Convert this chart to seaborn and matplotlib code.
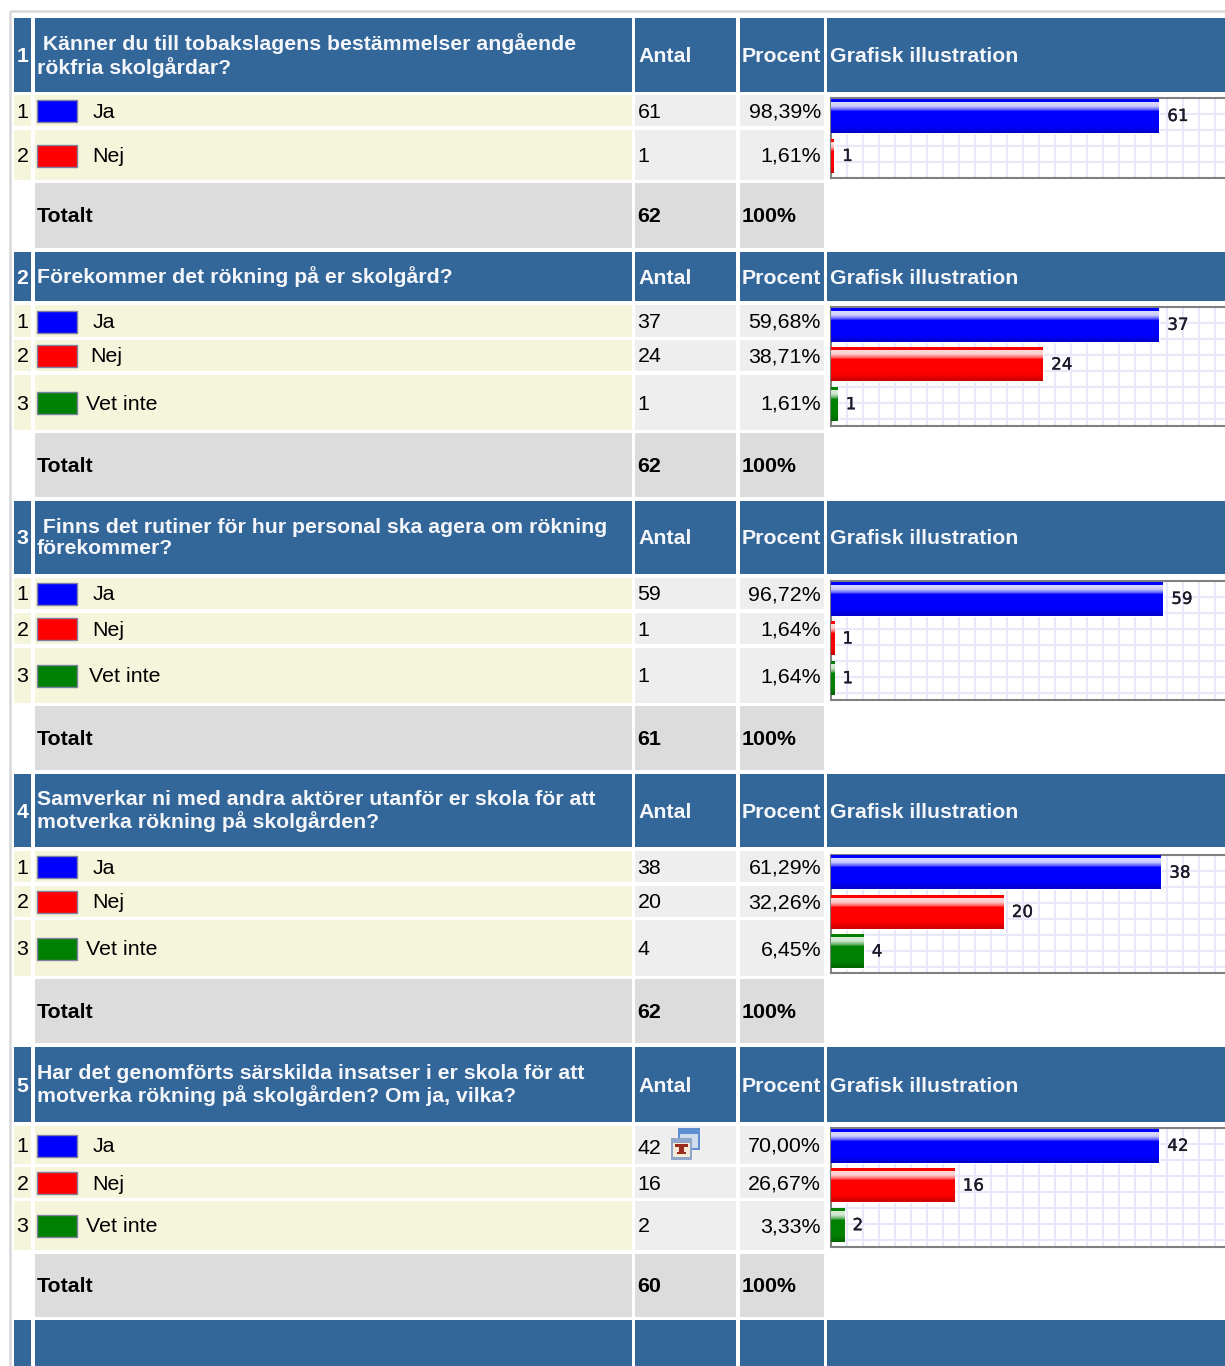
import numpy as np
import matplotlib
matplotlib.use("Agg")
import matplotlib.pyplot as plt
import matplotlib.patheffects as pe
from matplotlib.colors import to_rgb
from matplotlib.patches import Rectangle
import seaborn as sns

W, H = 1225, 1366

# data
questions = [
    " Känner du till tobakslagens bestämmelser angående\nrökfria skolgårdar?",
    "Förekommer det rökning på er skolgård?",
    " Finns det rutiner för hur personal ska agera om rökning\nförekommer?",
    "Samverkar ni med andra aktörer utanför er skola för att\nmotverka rökning på skolgården?",
    "Har det genomförts särskilda insatser i er skola för att\nmotverka rökning på skolgården? Om ja, vilka?",
]
options = [
    ["Ja", "Nej"],
    ["Ja", "Nej", "Vet inte"],
    ["Ja", "Nej", "Vet inte"],
    ["Ja", "Nej", "Vet inte"],
    ["Ja", "Nej", "Vet inte"],
]
counts = [
    [61, 1],
    [37, 24, 1],
    [59, 1, 1],
    [38, 20, 4],
    [42, 16, 2],
]
percents = [
    ["98,39%", "1,61%"],
    ["59,68%", "38,71%", "1,61%"],
    ["96,72%", "1,64%", "1,64%"],
    ["61,29%", "32,26%", "6,45%"],
    ["70,00%", "26,67%", "3,33%"],
]
totals = [62, 62, 61, 62, 60]
col_antal = "Antal"
col_procent = "Procent"
col_graf = "Grafisk illustration"
total_label = "Totalt"
total_pct = "100%"
palette = {"Ja": "#0000ff", "Nej": "#ff0000", "Vet inte": "#008000"}

# layout in pixels, top/bottom of the rows per question
header_y = [(18, 92), (252, 301), (501, 574), (774, 847), (1047, 1122)]
row_y = [
    [(95, 126), (130, 180)],
    [(305, 337), (340, 371), (375, 430)],
    [(578, 609), (613, 644), (648, 703)],
    [(851, 882), (886, 917), (920, 976)],
    [(1126, 1164), (1167, 1198), (1201, 1250)],
]
total_y = [(183, 248), (433, 497), (706, 770), (979, 1043), (1254, 1317)]
chart_y = [(98, 178), (307, 426), (581, 700), (855, 973), (1128, 1247)]
bar_end_x = [1159, 1159, 1163, 1161, 1159]
option_x = [[93, 92], [93, 90, 86], [93, 92, 89], [93, 92, 86], [93, 92, 86]]
footer_y = (1320, 1366)

col_num = (14, 31)
col_q = (35, 632)
col_a = (635, 736)
col_p = (740, 824)
col_g = (827, 1225)

BLUE = "#336699"
BEIGE = "#f5f5dc"
LIGHT = "#eeeeee"
GREY = "#dcdcdc"
FS = 15.4
FS_H = 15.3
BAR_START = 2.5  # bars start a bit left of the chart frame

sns.set_theme(style="white")
plt.rcParams["font.family"] = ["Liberation Sans", "DejaVu Sans"]

fig = plt.figure(figsize=(W / 100, H / 100), dpi=100)
bg = fig.add_axes([0, 0, 1, 1])
bg.set_xlim(0, W)
bg.set_ylim(H, 0)
bg.set_axis_off()


def cell(col, ys, color):
    bg.add_patch(Rectangle((col[0], ys[0]), col[1] - col[0], ys[1] - ys[0], fc=color, ec="none"))


def txt(x, y, s, bold=False, color="black", ha="left", size=FS):
    bg.text(x, y + 1.5, s, fontsize=size, color=color, ha=ha, va="center",
            fontweight="bold" if bold else "normal", linespacing=1.13)


def box(x, y, w, h, color):
    bg.add_patch(Rectangle((x, y), w, h, fc=color, ec="none"))


def draw_icon():
    # the small report icon next to "42"
    box(678, 1128, 22, 22, "#5f8fd0")
    box(680, 1134, 18, 14, "#cfdcee")
    box(671, 1138, 21, 22, "#8fa6c8")
    box(673, 1143, 17, 14, "#f3ead8")
    box(675, 1144, 13, 3, "#9c2a1c")
    box(679, 1147, 5, 5, "#9c2a1c")
    box(677, 1152, 9, 2, "#9c2a1c")


def shade_bars(ax):
    # glossy look of the bars, painted over the seaborn patches
    x_lim, y_lim = ax.get_xlim(), ax.get_ylim()
    for bar in ax.patches:
        base = np.array(to_rgb(bar.get_facecolor()))
        x0, w = bar.get_x(), bar.get_width()
        y0, h = bar.get_y(), bar.get_height()
        t = np.linspace(0, 1, 34)
        white = np.interp(t, [0, 0.07, 0.09, 0.2, 0.3, 0.36, 1], [0, 0, 0.85, 0.8, 0.4, 0, 0])
        dark = np.interp(t, [0, 0.8, 1], [1, 1, 0.8])
        rgb = np.outer(1 - white, base) + white[:, None]
        rgb = rgb * dark[:, None]
        ax.imshow(rgb[:, None, :], extent=(x0, x0 + w, y0 + h, y0), aspect="auto",
                  zorder=3, interpolation="bilinear")
    ax.set_xlim(x_lim)
    ax.set_ylim(y_lim)


def draw_chart(i):
    x0 = 831
    top, bottom = chart_y[i]
    ax = fig.add_axes([x0 / W, 1 - bottom / H, (W - x0) / W, (bottom - top) / H])
    labels = options[i]
    n = len(labels)
    sns.barplot(x=counts[i], y=labels, hue=labels, palette=palette, legend=False,
                width=0.85, ax=ax, saturation=1, zorder=2)
    per_px = max(counts[i]) / (bar_end_x[i] - x0 + BAR_START)
    ax.set_xlim(BAR_START * per_px, (W - x0 + BAR_START) * per_px)
    ax.set_ylim(n - 0.45, -0.45)
    shade_bars(ax)
    for c in ax.containers:
        for t in ax.bar_label(c, padding=6, fontsize=12, color="#1a1a2a", zorder=4,
                              fontfamily="DejaVu Sans"):
            t.set_path_effects([pe.withStroke(linewidth=0.25, foreground="#1a1a2a")])
    h_px = bottom - top
    ax.set_xticks((np.arange(16, W - x0, 16) + BAR_START) * per_px)
    ax.set_yticks(-0.45 + np.arange(16, h_px - 2, 16) * n / h_px)
    ax.grid(True, color="#e8e8fa", lw=1.5, zorder=0)
    ax.set_axisbelow(True)
    ax.tick_params(length=0, labelleft=False, labelbottom=False)
    ax.set(xlabel="", ylabel="")
    for side in ["left", "top", "bottom"]:
        ax.spines[side].set_color("#808080")
        ax.spines[side].set_linewidth(1.5)
    ax.spines["right"].set_visible(False)


# outer page border
bg.add_patch(Rectangle((9.5, 11), W, H, fc="none", ec="#d8d8d8", lw=1.8))

for i, q in enumerate(questions):
    ys = header_y[i]
    ym = sum(ys) / 2
    for col in (col_num, col_q, col_a, col_p, col_g):
        cell(col, ys, BLUE)
    txt(22.5, ym, str(i + 1), bold=True, color="white", ha="center", size=FS_H)
    txt(37, ym - 1, q, bold=True, color="#f4f6fa", size=FS_H)
    txt(638, ym, col_antal, bold=True, color="#f4f6fa", size=FS_H)
    txt(742, ym, col_procent, bold=True, color="#f4f6fa", size=FS_H)
    txt(830, ym, col_graf, bold=True, color="#f4f6fa", size=FS_H)

    for j, opt in enumerate(options[i]):
        ry = row_y[i][j]
        rm = sum(ry) / 2
        cell(col_num, ry, BEIGE)
        cell(col_q, ry, BEIGE)
        cell(col_a, ry, LIGHT)
        cell(col_p, ry, LIGHT)
        txt(22.5, rm, str(j + 1), ha="center")
        bg.add_patch(Rectangle((37, rm - 10.5), 40, 22, fc=palette[opt], ec="#8080a0", lw=1))
        txt(option_x[i][j], rm, opt)
        txt(637.5, rm + (2 if (i, j) == (4, 0) else 0), str(counts[i][j]))
        txt(821, rm, percents[i][j], ha="right")

    ty = total_y[i]
    tm = sum(ty) / 2
    cell(col_q, ty, GREY)
    cell(col_a, ty, GREY)
    cell(col_p, ty, GREY)
    txt(37, tm, total_label, bold=True)
    txt(637.5, tm, str(totals[i]), bold=True)
    txt(742, tm, total_pct, bold=True)

    draw_chart(i)

for col in (col_num, col_q, col_a, col_p, col_g):
    cell(col, footer_y, BLUE)
draw_icon()

fig.savefig("out.png", dpi=100)
